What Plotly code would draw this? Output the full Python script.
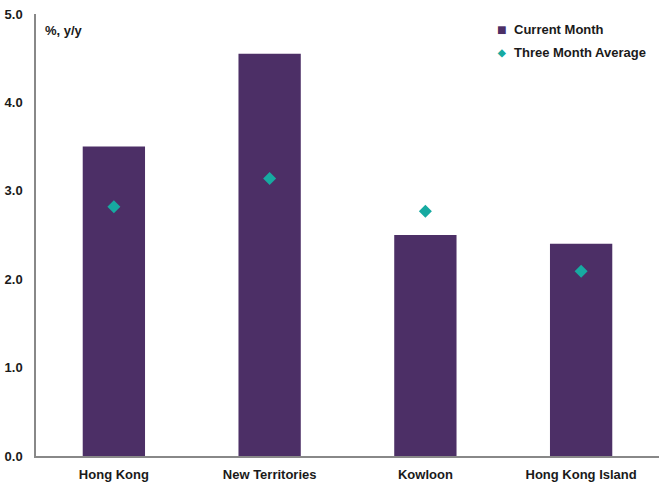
import plotly.graph_objects as go

categories = ["Hong Kong", "New Territories", "Kowloon", "Hong Kong Island"]
current_month = [3.5, 4.55, 2.5, 2.4]
three_month_avg = [2.82, 3.14, 2.77, 2.09]
y_ticks = [0, 1, 2, 3, 4, 5]
y_tick_labels = ["0.0", "1.0", "2.0", "3.0", "4.0", "5.0"]
series_names = ["Current Month", "Three Month Average"]

bar_color = "#4C2F66"
dot_color = "#17AAA1"
font_family = "Liberation Sans, Arial, sans-serif"

fig = go.Figure()
fig.add_trace(go.Bar(
    x=categories, y=current_month, name=series_names[0],
    marker=dict(color=bar_color, line=dict(width=0)), width=0.4,
))
fig.add_trace(go.Scatter(
    x=categories, y=three_month_avg, name=series_names[1],
    mode="markers", marker=dict(symbol="diamond", color=dot_color, size=10),
))

# legend drawn as annotations (symbol right next to the label)
legend_items = [("■", bar_color, 0.966, 16), ("◆", dot_color, 0.914, 10)]
annotations = [dict(text="%, y/y", xref="paper", yref="paper", x=0.012, y=0.985,
                    xanchor="left", yanchor="top", showarrow=False,
                    font=dict(size=13, weight="bold"))]
for (sym, col, ypos, ssize), name in zip(legend_items, series_names):
    annotations.append(dict(text=sym, xref="paper", yref="paper", x=0.7475, y=ypos,
                            xanchor="center", yanchor="middle", showarrow=False,
                            font=dict(size=ssize, color=col)))
    annotations.append(dict(text=name, xref="paper", yref="paper", x=0.7635, y=ypos,
                            xanchor="left", yanchor="middle", showarrow=False,
                            font=dict(size=13, weight="bold")))

fig.update_layout(
    width=659, height=487,
    margin=dict(l=36, r=0, t=14, b=31),
    paper_bgcolor="white", plot_bgcolor="white",
    font=dict(family=font_family, size=13, color="#1a1a1a", weight="bold"),
    showlegend=False,
    bargap=0.6,
    annotations=annotations,
)
fig.update_xaxes(
    showline=True, linecolor="#888888", linewidth=1.5, ticks="", showgrid=False,
    range=[-0.5, 3.5], tickfont=dict(size=13, weight="bold"), ticklabelstandoff=6,
)
fig.update_yaxes(
    range=[0, 5], tickvals=y_ticks, ticktext=y_tick_labels,
    showline=True, linecolor="#888888", linewidth=1.5, ticks="", showgrid=False,
    zeroline=False, ticklabelstandoff=9, tickfont=dict(size=13, weight="bold"),
)

fig.write_html("out.html")
